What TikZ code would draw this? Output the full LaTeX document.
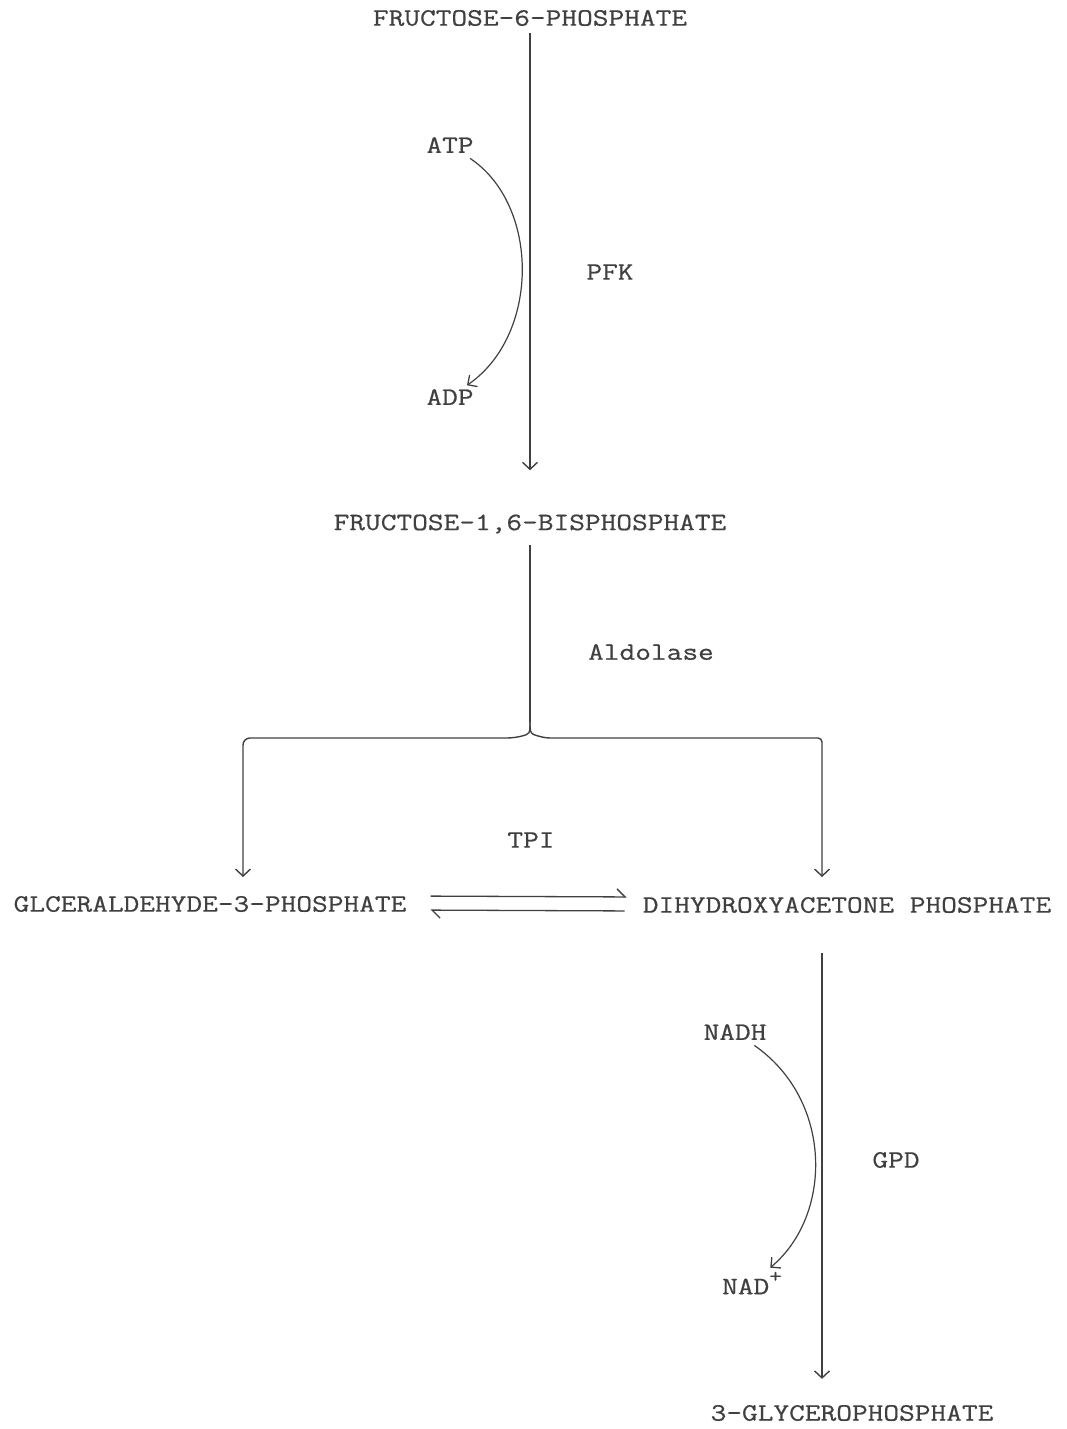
\documentclass[tikz,border=0pt]{standalone}
\usepackage{fontspec}
\setmainfont{Latin Modern Mono}[FakeStretch=1.22,FakeBold=0.6]
\usetikzlibrary{arrows.meta}
\definecolor{ink}{gray}{0.25}
\tikzset{
  chem/.style={text=ink,font=\fontsize{25}{30}\selectfont,inner sep=2pt},
  rxn/.style={draw=ink,line width=1.4pt,-{Straight Barb[length=7pt,width=15pt,line width=1.4pt]}},
  cofac/.style={draw=ink,line width=1.2pt,-{Straight Barb[length=7pt,width=14pt,line width=1.3pt]}},
  equil/.style={draw=ink,line width=1.3pt,-{Straight Barb[harpoon,length=8pt,width=16pt,line width=1.3pt]}},
}

\begin{document}
\begin{tikzpicture}[x=1pt,y=-1pt]
        \useasboundingbox (0,0) rectangle (1066,1429);
        % metabolites
        \node[chem] (f6p) at (530,18) {FRUCTOSE-6-PHOSPHATE};
        \node[chem] (f16bp) at (530,524) {FRUCTOSE-1,6-BISPHOSPHATE};
        \node[chem] (g3p) at (210,904) {GLCERALDEHYDE-3-PHOSPHATE};
        \node[chem] (dhap) at (847,905) {DIHYDROXYACETONE PHOSPHATE};
        \node[chem] (gp3) at (852,1413) {3-GLYCEROPHOSPHATE};
        % cofactors and enzymes
        \node[chem] (atp) at (450,145) {ATP};
        \node[chem] (adp) at (450,397) {ADP};
        \node[chem] (pfk) at (610,272) {PFK};
        \node[chem] (ald) at (651,652) {Aldolase};
        \node[chem] (tpi) at (531,840) {TPI};
        \node[chem] (nadh) at (735,1032) {NADH};
        \node[chem] (nad) at (752,1283) {NAD\raisebox{1.1ex}{\fontsize{20}{20}\selectfont+}};
        \node[chem] (gpd) at (896,1160) {GPD};
        \coordinate (split) at (530,722);
        \coordinate (g3pin) at (243,877);
        \coordinate (dhapin) at (822,877);

        \draw[rxn,shorten <=5pt,shorten >=42pt] (f6p) -- (f16bp);
        \draw[cofac,shorten <=6pt,shorten >=3pt] (atp) .. controls (540,205) and (540,335) .. (adp);

        \draw[draw=ink,line width=1.4pt,shorten <=9pt] (f16bp) -- (split);
        \draw[rxn,rounded corners=7pt] (split) .. controls (530,734) .. (514,738) -- (243,738) -- (g3pin);
        \draw[rxn,rounded corners=4pt] (split) .. controls (530,734) .. (546,738) -- (822,738) -- (dhapin);

        \draw[equil,shorten <=22pt,shorten >=14pt] ([yshift=8pt]g3p.east) -- ([yshift=8pt]dhap.west);
        \draw[equil,shorten <=16pt,shorten >=22pt] ([yshift=-6pt]dhap.west) -- ([yshift=-6pt]g3p.east);

        \draw[rxn,shorten <=38pt,shorten >=24pt] (dhap.south -| dhapin) -- (gp3.north -| dhapin);
        \draw[cofac,shorten <=6pt,shorten >=3pt] (nadh) .. controls (833,1100) and (833,1215) .. (nad);
\end{tikzpicture}
\end{document}
